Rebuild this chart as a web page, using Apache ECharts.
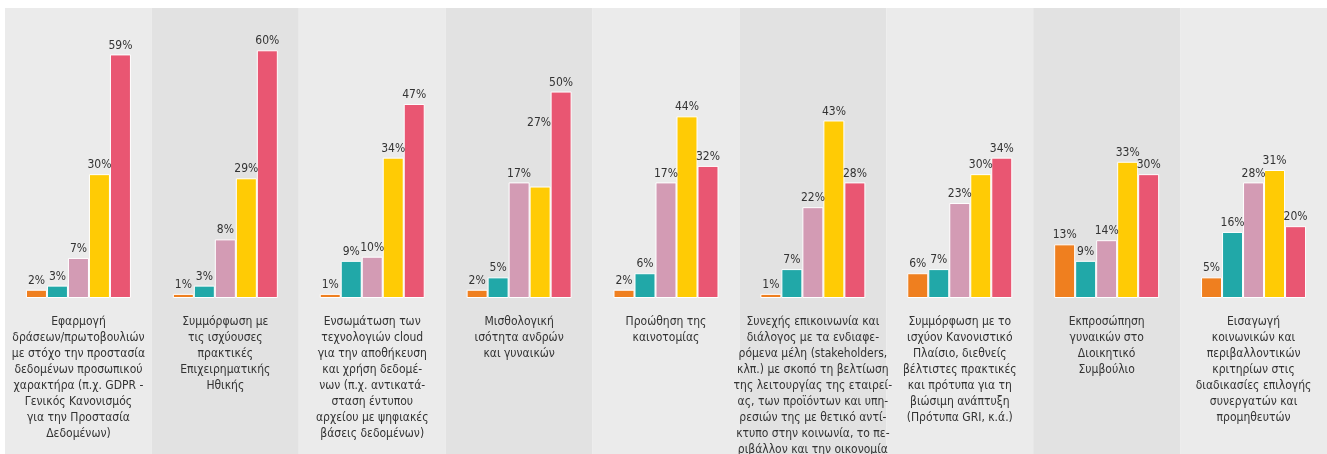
<!DOCTYPE html>
<html>
<head>
<meta charset="utf-8">
<script src="https://cdn.jsdelivr.net/npm/echarts@6/dist/echarts.min.js"></script>
<style>
    html, body { margin: 0; padding: 0; background: #fff; }
    #main { width: 1327px; height: 454px; }
</style>
</head>
<body>
<div id="main"></div>
<script>
// κατηγορίες (άξονας Χ)
let categories = [
    'Εφαρμογή\nδράσεων/πρωτοβουλιών\nμε στόχο την προστασία\nδεδομένων προσωπικού\nχαρακτήρα (π.χ. GDPR -\nΓενικός Κανονισμός\nγια την Προστασία\nΔεδομένων)',
    'Συμμόρφωση με\nτις ισχύουσες\nπρακτικές\nΕπιχειρηματικής\nΗθικής',
    'Ενσωμάτωση των\nτεχνολογιών cloud\nγια την αποθήκευση\nκαι χρήση δεδομέ-\nνων (π.χ. αντικατά-\nσταση έντυπου\nαρχείου με ψηφιακές\nβάσεις δεδομένων)',
    'Μισθολογική\nισότητα ανδρών\nκαι γυναικών',
    'Προώθηση της\nκαινοτομίας',
    'Συνεχής επικοινωνία και\nδιάλογος με τα ενδιαφε-\nρόμενα μέλη (stakeholders,\nκλπ.) με σκοπό τη βελτίωση\nτης λειτουργίας της εταιρεί-\nας, των προϊόντων και υπη-\nρεσιών της με θετικό αντί-\nκτυπο στην κοινωνία, το πε-\nριβάλλον και την οικονομία',
    'Συμμόρφωση με το\nισχύον Κανονιστικό\nΠλαίσιο, διεθνείς\nβέλτιστες πρακτικές\nκαι πρότυπα για τη\nβιώσιμη ανάπτυξη\n(Πρότυπα GRI, κ.ά.)',
    'Εκπροσώπηση\nγυναικών στο\nΔιοικητικό\nΣυμβούλιο',
    'Εισαγωγή\nκοινωνικών και\nπεριβαλλοντικών\nκριτηρίων στις\nδιαδικασίες επιλογής\nσυνεργατών και\nπρομηθευτών'
];

// ύψη στηλών όπως σχεδιάζονται
let orangeData = [2, 1, 1, 2, 2, 1, 6, 13, 5];
let tealData = [3, 3, 9, 5, 6, 7, 7, 9, 16];
let pinkData = [9.7, 14.2, 10, 28, 28, 22, 23, 14, 28];
let yellowData = [30, 29, 34, 27, 44, 43, 30, 33, 31];
let redData = [59, 60, 47, 50, 32, 28, 34, 30, 17.4];

// ετικέτες όπως τυπώνονται
let orangeText = [2, 1, 1, 2, 2, 1, 6, 13, 5];
let tealText = [3, 3, 9, 5, 6, 7, 7, 9, 16];
let pinkText = [7, 8, 10, 17, 17, 22, 23, 14, 28];
let yellowText = [30, 29, 34, 27, 44, 43, 30, 33, 31];
let redText = [59, 60, 47, 50, 32, 28, 34, 30, 20];

let colors = ['#ef7f1f', '#21a8a8', '#d39bb4', '#ffcb05', '#e95672'];
let font = '"Liberation Sans Narrow", "DejaVu Sans Condensed", sans-serif';

function makeSeries(values, texts, color) {
    return {
        type: 'bar',
        xAxisIndex: 1,
        yAxisIndex: 1,
        barWidth: 21,
        barGap: '0%',
        data: values.map(function (v, i) {
            let item = {value: v};
            // η ετικέτα 27% στο 4ο γκρουπ είναι τυπωμένη πιο ψηλά
            if (color === colors[3] && i === 3) {
                item.label = {offset: [-1, -55]};
            }
            return item;
        }),
        itemStyle: {color: color, borderColor: '#fff', borderWidth: 1},
        label: {
            show: true,
            position: 'top',
            distance: 3,
            color: '#333',
            fontFamily: font,
            fontSize: 12,
            formatter: function (p) {
                return texts[p.dataIndex] + '%';
            }
        },
        z: 3
    };
}

let myChart = echarts.init(document.getElementById('main'));
let option = {
    animation: false,
    backgroundColor: '#fff',
    grid: [
        {left: 5, right: 0, top: 8, bottom: 0, outerBoundsMode: 'none'},   // φόντο λωρίδες
        {left: 5, right: 0, top: 9, bottom: 156, outerBoundsMode: 'none'}
    ],
    xAxis: [
        {
            type: 'category',
            gridIndex: 0,
            data: categories,
            axisLine: {show: false},
            axisTick: {show: false, interval: 0},
            axisLabel: {show: false, interval: 0},
            splitLine: {show: false, interval: 0},
            splitArea: {show: true, interval: 0, areaStyle: {color: ['#ebebeb', '#e2e2e2']}},
            z: 0
        },
        {
            type: 'category',
            gridIndex: 1,
            data: categories,
            axisLine: {show: false},
            axisTick: {show: false},
            splitLine: {show: false},
            axisLabel: {
                interval: 0,
                margin: 16,
                color: '#333',
                fontFamily: font,
                fontSize: 12,
                lineHeight: 16,
                align: 'center'
            },
            z: 1
        }
    ],
    yAxis: [
        {type: 'value', gridIndex: 0, min: 0, max: 1, show: false, splitLine: {show: false}},
        {type: 'value', gridIndex: 1, min: 0, max: 70, show: false, splitLine: {show: false}}
    ],
    series: [
        makeSeries(orangeData, orangeText, colors[0]),
        makeSeries(tealData, tealText, colors[1]),
        makeSeries(pinkData, pinkText, colors[2]),
        makeSeries(yellowData, yellowText, colors[3]),
        makeSeries(redData, redText, colors[4])
    ]
};
myChart.setOption(option);
</script>
</body>
</html>
